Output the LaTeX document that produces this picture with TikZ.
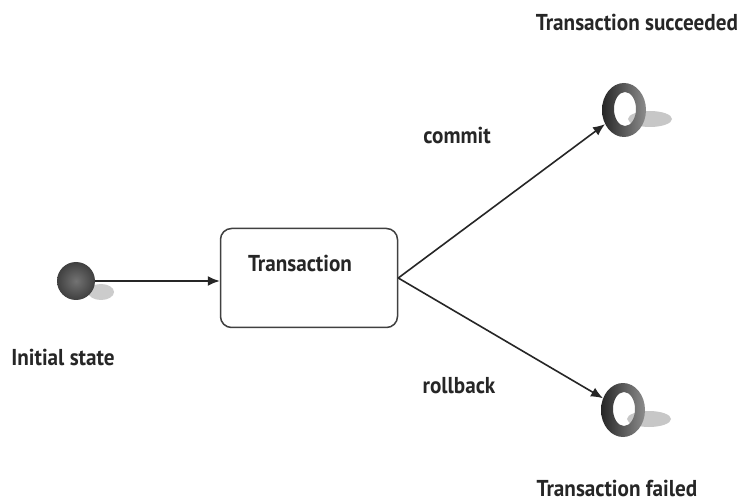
\documentclass[tikz,border=0pt]{standalone}
\usepackage{fontspec}
\setmainfont{PT Sans}[FakeStretch=0.92]
\usetikzlibrary{arrows.meta,shapes.geometric}
\begin{document}
\begin{tikzpicture}[x=1pt,y=-1pt,
  lbl/.style={font=\fontsize{23}{27}\selectfont\bfseries, text=black!85, inner sep=0pt},
  conn/.style={line width=1.6pt, draw=black!85, -{Latex[length=12pt,width=10pt]}},
  ringnode/.style={ellipse, minimum width=44pt, minimum height=54pt, inner sep=0pt},
]
\useasboundingbox (0,0) rectangle (744,502);
\fill[white] (0,0) rectangle (744,502);

% initial state
\fill[black!20] (101,292) ellipse [x radius=13, y radius=8];
\node[circle, minimum size=38pt, inner sep=0pt, shade, inner color=black!55, outer color=black!75] (init) at (76,281) {};
\node[lbl] (initlbl) at (63,357) {Initial state};

% transaction box
\node[rectangle, rounded corners=11pt, draw=black!75, line width=1.5pt, minimum width=177pt, minimum height=99pt] (tx) at (309,278) {};
\node[lbl] (txlbl) at (300,263) {Transaction};

% final states
\foreach \n/\cx/\cy in {succ/624/110, fail/623/410}{
  \fill[black!22] (\cx+26,\cy+9) ellipse [x radius=22, y radius=8];
  \path[even odd rule, left color=black!85, right color=black!45]
    (\cx,\cy) ellipse [x radius=22, y radius=27]
    (\cx+1,\cy-1) ellipse [x radius=11, y radius=17];
  \node[ringnode] (\n) at (\cx,\cy) {};
}
\node[lbl] (succlbl) at (637,22) {Transaction succeeded};
\node[lbl] (faillbl) at (617,488) {Transaction failed};

% connectors
\draw[conn] (init) -- (init -| tx.west);
\draw[conn] (tx.east) -- (succ);
\draw[conn] (tx.east) -- (fail);
\node[lbl] (commitlbl) at (457,135) {commit};
\node[lbl] (rollbacklbl) at (459,386) {rollback};
\end{tikzpicture}
\end{document}
